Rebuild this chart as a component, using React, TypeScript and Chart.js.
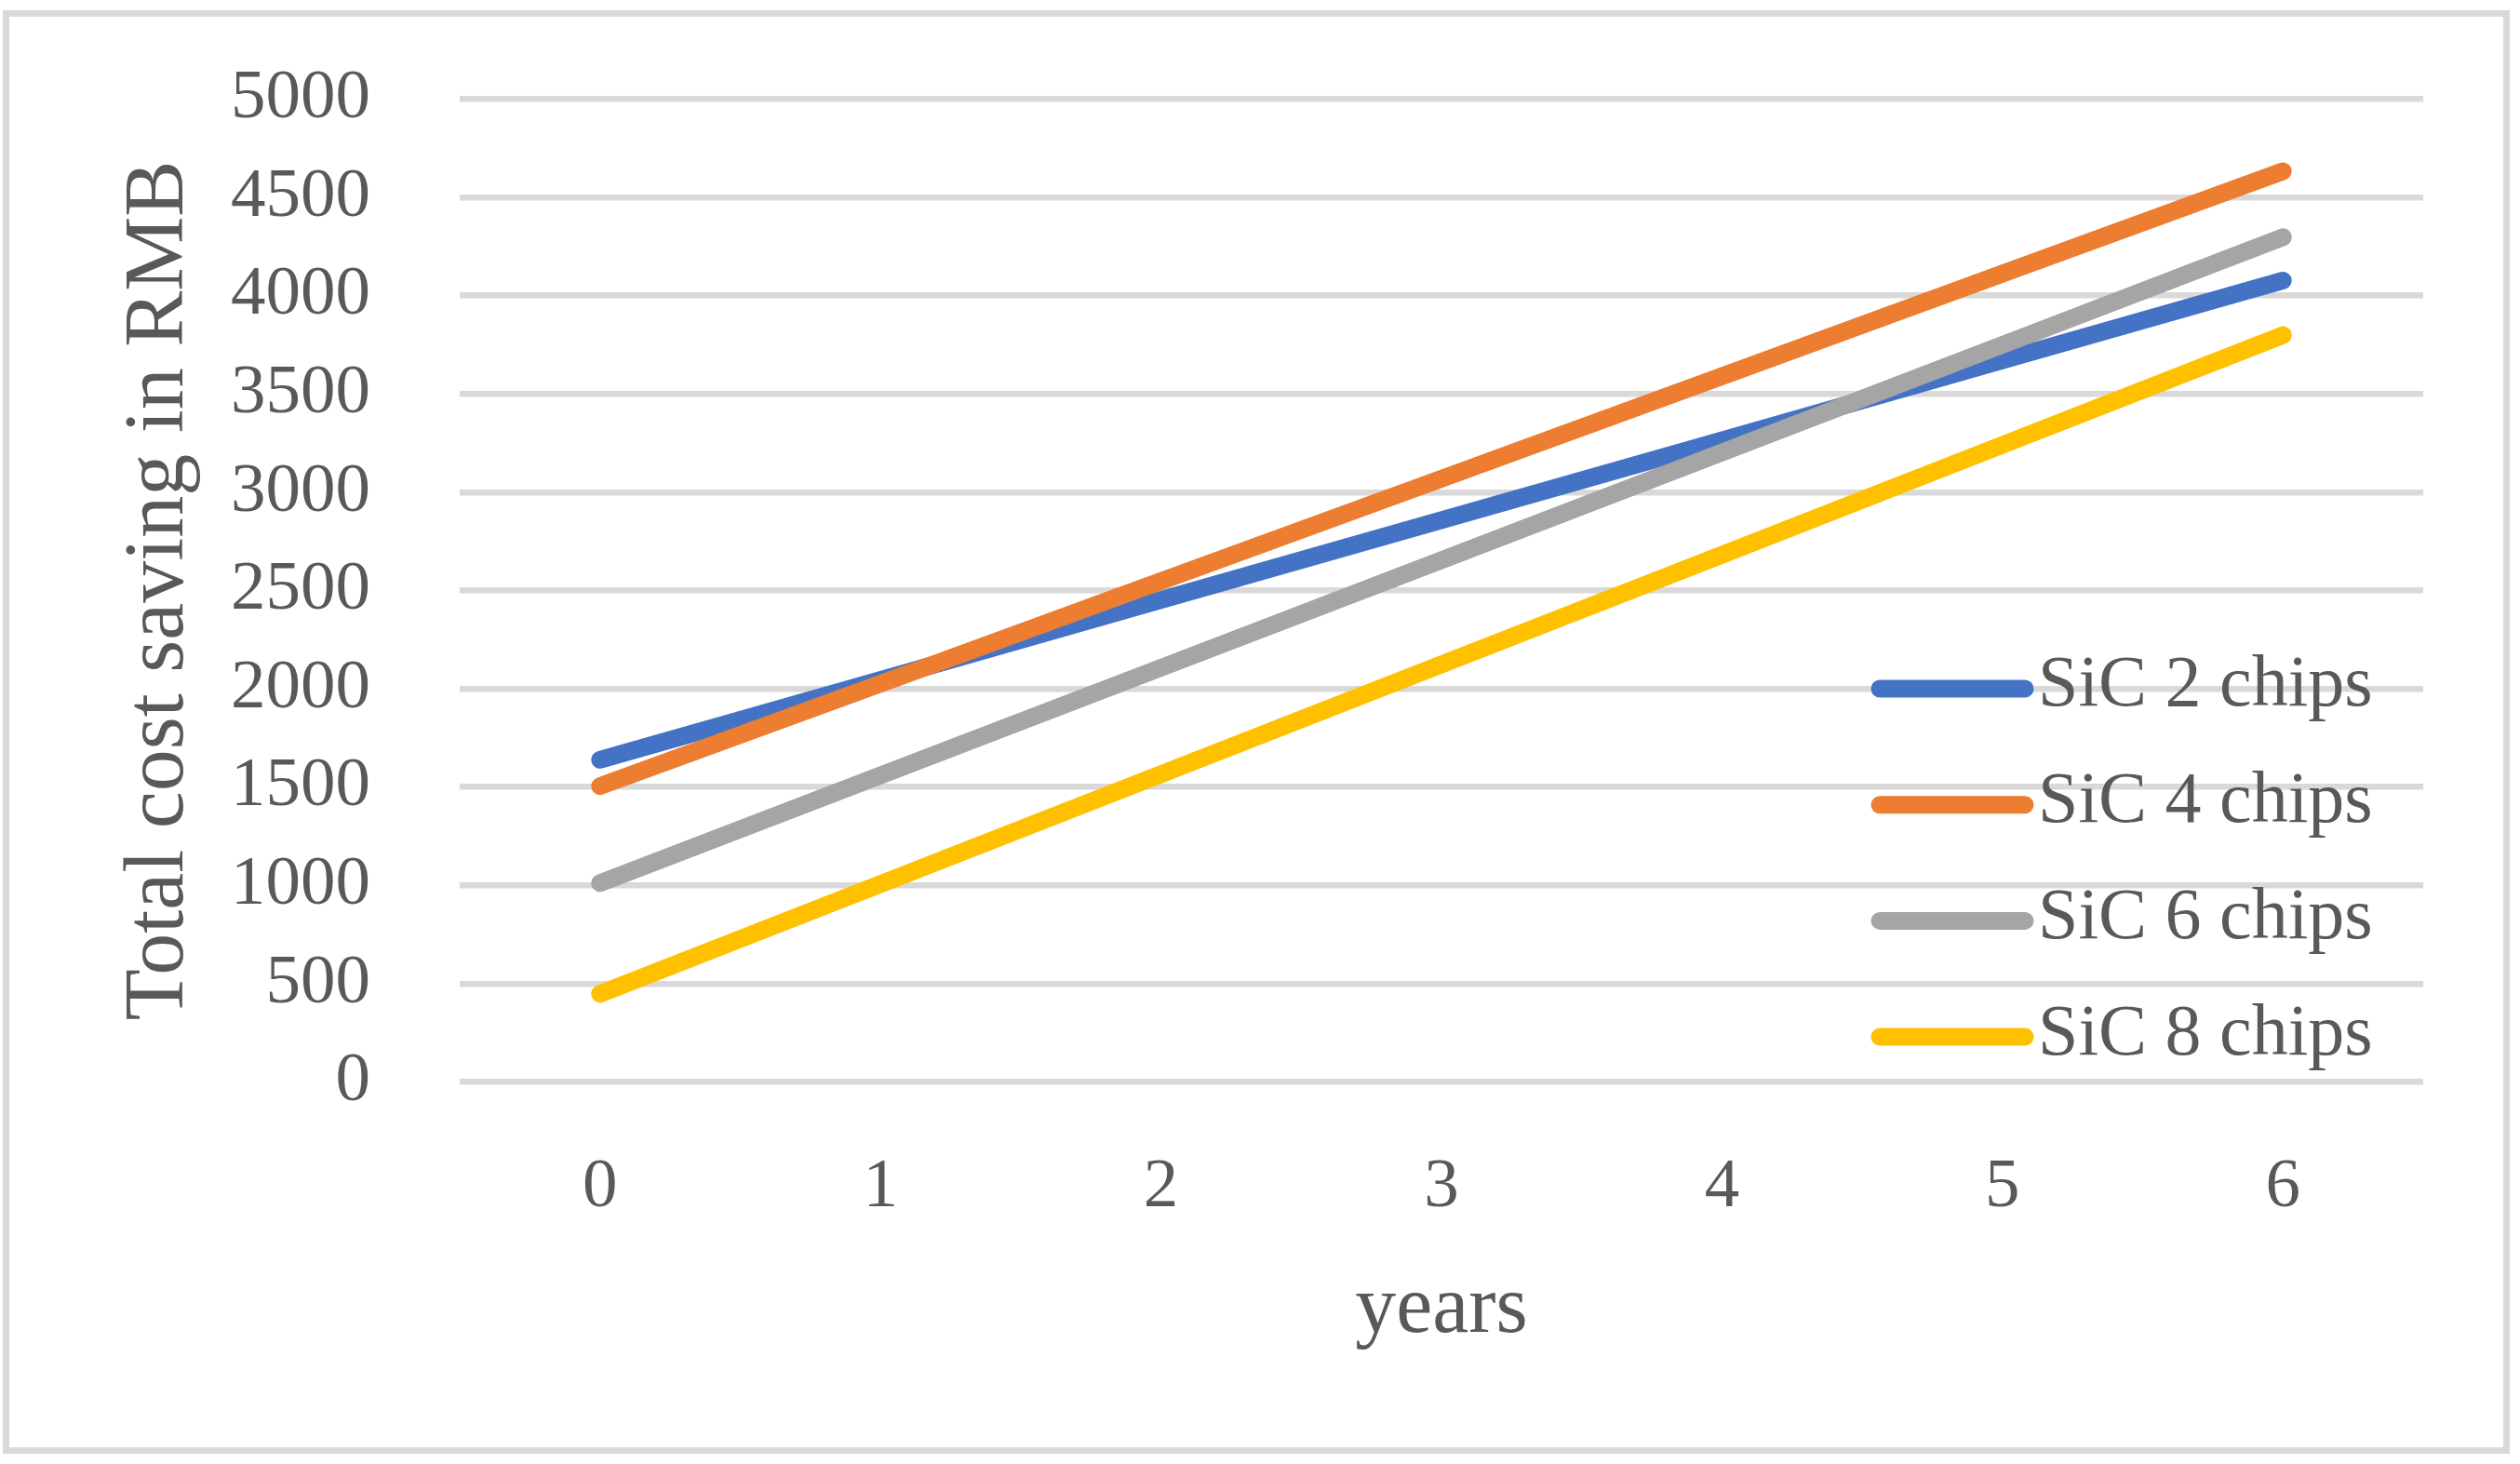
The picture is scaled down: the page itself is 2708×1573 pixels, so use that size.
import React, { useEffect, useRef } from 'react';
import { Chart, registerables } from 'chart.js';

Chart.register(...registerables);

// ---- data ----
const years = ['0', '1', '2', '3', '4', '5', '6'];
const seriesNames = ['SiC 2 chips', 'SiC 4 chips', 'SiC 6 chips', 'SiC 8 chips'];
const sic2 = [1639, 2045, 2452, 2858, 3264, 3671, 4077];
const sic4 = [1505, 2026, 2548, 3069, 3590, 4112, 4633];
const sic6 = [1012, 1560, 2107, 2655, 3203, 3750, 4298];
const sic8 = [448, 1007, 1565, 2124, 2682, 3241, 3799];
const seriesColors = ['#4472C4', '#ED7D31', '#A5A5A5', '#FFC000'];
const yMin = 0;
const yMax = 5000;
const yStep = 500;
const xTitle = 'years';
const yTitle = 'Total cost saving in RMB';

const W = 2708;
const H = 1573;
const FONT = "'Liberation Serif', 'Times New Roman', serif";
const TEXT = '#595959';
const GRID = '#D9D9D9';

const framePlugin = {
  id: 'frame',
  beforeDraw(chart: any) {
    const ctx = chart.ctx;
    ctx.save();
    ctx.fillStyle = '#ffffff';
    ctx.fillRect(0, 0, chart.width, chart.height);
    ctx.strokeStyle = GRID;
    ctx.lineWidth = 7;
    ctx.strokeRect(6.5, 14.5, 2693.5 - 6.5, 1558.5 - 14.5);
    ctx.restore();
  },
};

const insideLegend = {
  id: 'insideLegend',
  afterDraw(chart: any) {
    const ctx = chart.ctx;
    const area = chart.chartArea;
    const x0 = area.left + 1526;
    const x1 = area.left + 1682;
    const tx = area.left + 1696;
    const y0 = area.top + 633.5;
    const gap = 124.7;
    ctx.save();
    chart.data.datasets.forEach((ds: any, i: number) => {
      const y = y0 + i * gap;
      ctx.beginPath();
      ctx.strokeStyle = ds.borderColor;
      ctx.lineWidth = 19;
      ctx.lineCap = 'round';
      ctx.moveTo(x0, y);
      ctx.lineTo(x1, y);
      ctx.stroke();
      ctx.fillStyle = TEXT;
      ctx.font = `78px ${FONT}`;
      ctx.textAlign = 'left';
      ctx.textBaseline = 'middle';
      ctx.fillText(ds.label, tx, y - 2);
    });
    ctx.restore();
  },
};

export default function App() {
  const ref = useRef<HTMLCanvasElement | null>(null);

  useEffect(() => {
    document.body.style.margin = '0';
    document.body.style.overflow = 'hidden';
    const canvas = ref.current;
    if (!canvas) return;
    const values = [sic2, sic4, sic6, sic8];
    const chart = new Chart(canvas, {
      type: 'line',
      data: {
        labels: years,
        datasets: values.map((v, i) => ({
          label: seriesNames[i],
          data: v,
          borderColor: seriesColors[i],
          backgroundColor: seriesColors[i],
          borderWidth: 19,
          borderCapStyle: 'round',
          borderJoinStyle: 'round',
          pointRadius: 0,
          pointHoverRadius: 0,
          tension: 0,
          fill: false,
          order: values.length - i,
        })),
      },
      options: {
        responsive: false,
        maintainAspectRatio: false,
        devicePixelRatio: 1,
        animation: false,
        layout: { padding: { left: 0, top: 106.5, right: 104, bottom: 0 } },
        plugins: {
          legend: { display: false },
          tooltip: { enabled: false },
          title: { display: false },
        },
        scales: {
          x: {
            type: 'category',
            offset: true,
            grid: { display: false, drawTicks: false },
            border: { display: false },
            ticks: {
              color: TEXT,
              font: { family: FONT, size: 75 },
              padding: 69,
              maxRotation: 0,
              autoSkip: false,
            },
            title: {
              display: true,
              text: xTitle,
              color: TEXT,
              font: { family: FONT, size: 88 },
              padding: { top: 0, bottom: 112 },
            },
            afterFit: (scale: any) => {
              scale.height = H - 1162.5;
              scale.paddingLeft = 0;
              scale.paddingRight = 0;
            },
          },
          y: {
            min: yMin,
            max: yMax,
            grid: { color: GRID, lineWidth: 6.5, drawTicks: false },
            border: { display: false },
            ticks: {
              stepSize: yStep,
              color: TEXT,
              font: { family: FONT, size: 75 },
              padding: 96,
              labelOffset: 0,
              callback: (value: any) => String(value),
            },
            title: {
              display: true,
              text: yTitle,
              color: TEXT,
              font: { family: FONT, size: 90 },
              padding: { top: 118, bottom: 0 },
            },
            afterFit: (scale: any) => {
              scale.width = 494;
              scale.paddingTop = 0;
              scale.paddingBottom = 0;
            },
          },
        },
      },
      plugins: [framePlugin, insideLegend],
    } as any);
    return () => chart.destroy();
  }, []);

  return (
    <div style={{ width: W, height: H }}>
      <canvas ref={ref} width={W} height={H} style={{ display: 'block', width: W, height: H }} />
    </div>
  );
}
